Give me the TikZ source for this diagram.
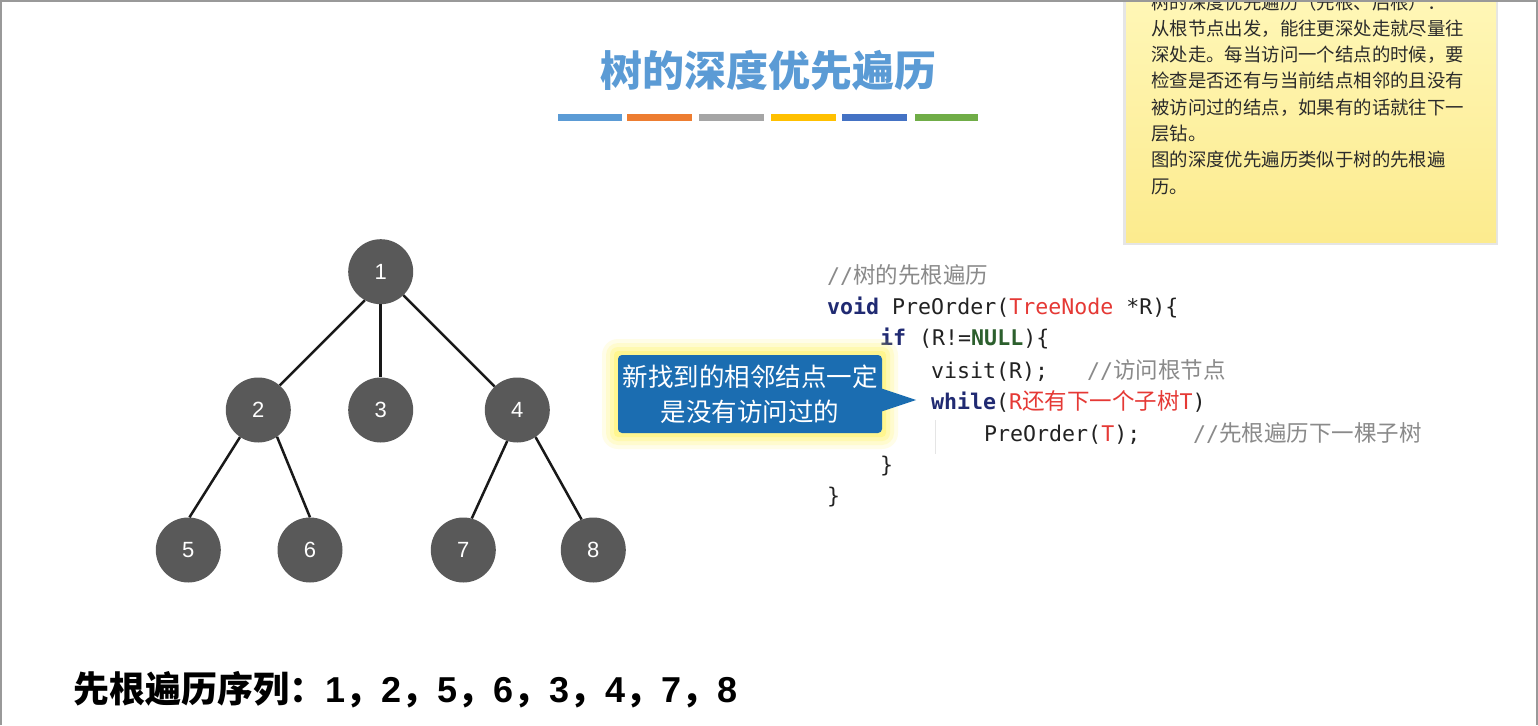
\documentclass[tikz,border=0pt]{standalone}
\usepackage{fontspec}
\setmainfont{Liberation Sans}[BoldFont={Liberation Sans Bold}]
\newfontfamily\cjk{Noto Sans CJK SC}
\newfontfamily\codefont{DejaVu Sans Mono}
\newfontfamily\seqfont{Liberation Sans Bold}
\usetikzlibrary{positioning}

\definecolor{titleblue}{HTML}{5B9BD5}
\definecolor{barorange}{HTML}{ED7D31}
\definecolor{bargray}{HTML}{A5A5A5}
\definecolor{baryellow}{HTML}{FFC000}
\definecolor{bardark}{HTML}{4472C4}
\definecolor{bargreen}{HTML}{70AD47}
\definecolor{nodegray}{HTML}{595959}
\definecolor{calloutblue}{HTML}{1B6DB1}
\definecolor{glowyellow}{HTML}{FFF24A}
\definecolor{notetop}{HTML}{FFF7B8}
\definecolor{notebottom}{HTML}{FCEB8E}
\definecolor{notetext}{HTML}{2B2B2B}
\definecolor{codetext}{HTML}{222222}
\definecolor{kwblue}{HTML}{202A72}
\definecolor{kwgreen}{HTML}{2C5F2D}
\definecolor{codered}{HTML}{E53935}
\definecolor{commentgray}{HTML}{8A8A8A}

% code colouring
\newcommand\kw[1]{\textcolor{kwblue}{\bfseries #1}}
\newcommand\rd[1]{\textcolor{codered}{#1}}
\newcommand\cmt[1]{\textcolor{commentgray}{#1}}
\newcommand\zh[1]{{\cjk\fontsize{22.5}{26}\selectfont #1}}

\tikzset{
  treenode/.style={circle, fill=nodegray, minimum size=65pt, inner sep=0pt,
    text=white, font=\fontsize{22}{26}\selectfont},
  treeedge/.style={line width=2.5pt, draw=black!90},
  codeline/.style={anchor=mid west, inner sep=0pt, text=codetext,
    font=\codefont\fontsize{21.6}{26}\selectfont},
  notetxt/.style={anchor=mid west, inner sep=0pt, text=notetext,
    font=\cjk\fontsize{18.4}{24}\selectfont},
}

\begin{document}
\begin{tikzpicture}[x=1pt, y=-1pt]
  \useasboundingbox (0,0) rectangle (1538,725);
  \clip (0,0) rectangle (1538,725);
  \fill[white] (0,0) rectangle (1538,725);

  % title and colour bars
  \node[font=\cjk\bfseries\fontsize{42}{48}\selectfont, text=titleblue] (title) at (768,71) {树的深度优先遍历};
  \foreach \a/\b/\c in {558/622/titleblue, 627/692/barorange, 699/764/bargray,
                        771/836/baryellow, 842/907/bardark, 915/978/bargreen} {
    \fill[\c] (\a,114) rectangle (\b,121);
  }

  % sticky note
  \fill[black!10] (1123,-10) rectangle (1498,245);
  \shade[top color=notetop, bottom color=notebottom] (1126,-10) rectangle (1496,242);
  \foreach \t [count=\i] in {树的深度优先遍历（先根、后根）：,
      从根节点出发，能往更深处走就尽量往,
      深处走。每当访问一个结点的时候，要,
      检查是否还有与当前结点相邻的且没有,
      被访问过的结点，如果有的话就往下一,
      层钻。,
      图的深度优先遍历类似于树的先根遍,
      历。} {
    \node[notetxt] (s\i) at (1151,{6.4+26.3*(\i-1)}) {\t};
  }

  % the tree
  \node[treenode] (n1) at (380.7,271.7) {1};
  \node[treenode] (n2) at (258.3,410) {2};
  \node[treenode] (n3) at (380.7,410) {3};
  \node[treenode] (n4) at (517.3,410) {4};
  \node[treenode] (n5) at (188.3,550) {5};
  \node[treenode] (n6) at (310,550) {6};
  \node[treenode] (n7) at (463.3,550) {7};
  \node[treenode] (n8) at (593.3,550) {8};
  \draw[treeedge] (n1.241) -- (n2.49);
  \draw[treeedge] (n1.270) -- (n3.90);
  \draw[treeedge] (n1.314) -- (n4.134);
  \draw[treeedge] (n2.236) -- (n5.88);
  \draw[treeedge] (n2.305) -- (n6.90);
  \draw[treeedge] (n4.252) -- (n7.75);
  \draw[treeedge] (n4.304) -- (n8.111);

  % code
  \draw[black!10, line width=1pt] (935,420) -- (935,454);
  \node[codeline] (c1) at (827,281) {\cmt{//\zh{树的先根遍历}}};
  \node[codeline] (c2) at (827,312) {\kw{void} PreOrder(\rd{TreeNode} *R)\{};
  \node[codeline] (c3) at (880,343) {\kw{if} (R!=\textcolor{kwgreen}{\bfseries NULL})\{};
  \node[codeline] (c4) at (931,376) {visit(R);};
  \node[codeline] (c4c) at (1087,376) {\cmt{//\zh{访问根节点}}};
  \node[codeline] (c5) at (931,407) {\kw{while}(\rd{R\zh{还有下一个子树}T})};
  \node[codeline] (c6) at (984,439) {PreOrder(\rd{T});};
  \node[codeline] (c6c) at (1193,439) {\cmt{//\zh{先根遍历下一棵子树}}};
  \node[codeline] (c7) at (880,470) {\}};
  \node[codeline] (c8) at (827,501) {\}};

  % callout
  \foreach \g/\o in {16/0.12, 12/0.16, 8/0.22, 4/0.32} {
    \fill[glowyellow, opacity=\o, rounded corners=\g pt] (618-\g,355-\g) rectangle (882+\g,433+\g);
  }
  \node[fill=calloutblue, rounded corners=4pt, minimum width=264pt, minimum height=78pt,
        inner sep=0pt, text=white, align=center,
        font=\cjk\fontsize{25.5}{35}\selectfont] (tip) at (750,394)
        {新找到的相邻结点一定\\是没有访问过的};
  \fill[calloutblue] (tip.east) ++(-2,-6) -- ++(36,12) -- ++(-36,12) -- cycle;

  % preorder sequence
  \node[anchor=west, inner sep=0pt, font=\seqfont\fontsize{36}{40}\selectfont] (seq) at (73,690)
    {{\cjk\bfseries 先根遍历序列：}1{\cjk\bfseries ，}2{\cjk\bfseries ，}5{\cjk\bfseries ，}6{\cjk\bfseries ，}3{\cjk\bfseries ，}4{\cjk\bfseries ，}7{\cjk\bfseries ，}8};

  % window frame
  \draw[black!40, line width=1.5pt] (1,725) -- (1,1) -- (1537,1) -- (1537,725);
\end{tikzpicture}
\end{document}
